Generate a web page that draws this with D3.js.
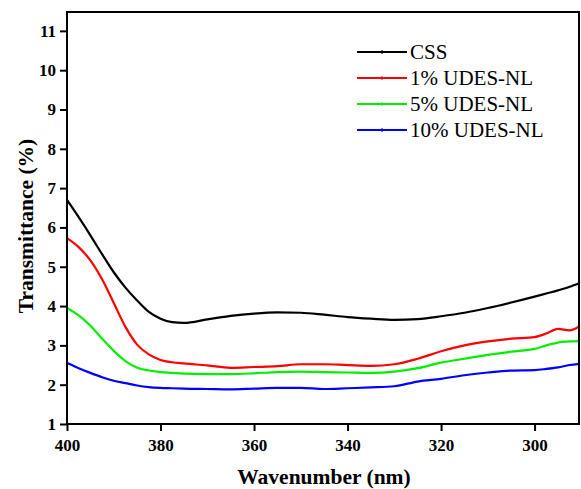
<!DOCTYPE html>
<html>
<head>
<meta charset="utf-8">
<script src="https://cdn.jsdelivr.net/npm/d3@7"></script>
<style>
  body { margin: 0; background: #fff; }
  svg text { font-family: "Liberation Serif", "Times New Roman", serif; }
</style>
</head>
<body>
<svg id="chart" width="581" height="489"></svg>
<script>
// wavelength samples (nm)
var wavenumber = [400, 397.5, 395, 392.5, 390, 387.5, 385, 382.5, 380, 377.5, 375, 370, 365, 360, 355, 350,
  345, 340, 335, 330, 325, 320, 315, 310, 305, 300, 297.5, 295, 292.5, 290.5];

var css = [6.70, 6.26, 5.80, 5.32, 4.86, 4.47, 4.14, 3.85, 3.68, 3.59, 3.57, 3.66, 3.75, 3.81, 3.84, 3.83,
  3.78, 3.72, 3.68, 3.65, 3.67, 3.74, 3.83, 3.95, 4.09, 4.24, 4.32, 4.40, 4.49, 4.58];
var udes1 = [5.73, 5.50, 5.16, 4.68, 4.08, 3.47, 3.02, 2.77, 2.63, 2.57, 2.54, 2.49, 2.43, 2.45, 2.47, 2.52,
  2.52, 2.50, 2.48, 2.52, 2.66, 2.85, 3.00, 3.10, 3.17, 3.21, 3.30, 3.42, 3.38, 3.48];
var udes5 = [3.95, 3.76, 3.50, 3.17, 2.86, 2.60, 2.43, 2.36, 2.32, 2.30, 2.28, 2.27, 2.27, 2.29, 2.32, 2.33,
  2.32, 2.31, 2.30, 2.33, 2.42, 2.56, 2.66, 2.76, 2.84, 2.91, 3.00, 3.07, 3.10, 3.11];
var udes10 = [2.55, 2.42, 2.30, 2.19, 2.10, 2.04, 1.98, 1.94, 1.92, 1.91, 1.90, 1.89, 1.88, 1.90, 1.92, 1.92,
  1.89, 1.91, 1.93, 1.96, 2.08, 2.15, 2.24, 2.31, 2.36, 2.37, 2.40, 2.44, 2.50, 2.53];

var seriesNames = ["CSS", "1% UDES-NL", "5% UDES-NL", "10% UDES-NL"];
var seriesColors = ["#000000", "#ff0000", "#00ee00", "#0000ff"];
var seriesValues = [css, udes1, udes5, udes10];

var xTicks = [400, 380, 360, 340, 320, 300];
var yTicks = [1, 2, 3, 4, 5, 6, 7, 8, 9, 10, 11];

var svg = d3.select("#chart"),
    margin = {top: 12, right: 2, bottom: 65, left: 67},
    width = +svg.attr("width") - margin.left - margin.right,
    height = +svg.attr("height") - margin.top - margin.bottom;

var g = svg.append("g").attr("transform", "translate(" + margin.left + "," + margin.top + ")");

var x = d3.scaleLinear().domain([400, 290.5]).range([0, width]);
var y = d3.scaleLinear().domain([1, 11.48]).range([height, 0]);

var line = d3.line()
  .x(function(d) { return x(d.w); })
  .y(function(d) { return y(d.v); })
  .curve(d3.curveMonotoneX);

seriesValues.forEach(function(vals, i){
  var pts = wavenumber.map(function(w, j){ return {w: w, v: vals[j]}; });
  g.append("path")
    .datum(pts)
    .attr("fill", "none")
    .attr("stroke", seriesColors[i])
    .attr("stroke-width", 2.2)
    .attr("d", line);
});

//axes
var xAxis = g.append("g")
  .attr("transform", "translate(0," + height + ")")
  .call(d3.axisBottom(x).tickValues(xTicks).tickSize(7).tickPadding(4).tickFormat(d3.format("d")));
var yAxis = g.append("g")
  .call(d3.axisLeft(y).tickValues(yTicks).tickSize(7).tickPadding(4).tickFormat(d3.format("d")));

[xAxis, yAxis].forEach(function(a){
  a.select(".domain").remove();
  a.selectAll("line").attr("stroke", "#000").attr("stroke-width", 2);
  a.selectAll("text")
    .attr("fill", "#000")
    .style("font-size", "17px")
    .style("font-weight", "bold")
    .style("font-family", "'Liberation Serif', serif");
});
xAxis.selectAll("text").attr("dy", "0.95em");

// frame
g.append("rect")
  .attr("x", 0).attr("y", 0)
  .attr("width", width).attr("height", height)
  .attr("fill", "none")
  .attr("stroke", "#000")
  .attr("stroke-width", 2);

// axis titles
svg.append("text")
  .attr("x", 324)
  .attr("y", 484)
  .attr("text-anchor", "middle")
  .style("font-size", "21.5px")
  .style("font-weight", "bold")
  .text("Wavenumber (nm)");

svg.append("text")
  .attr("transform", "translate(33,226) rotate(-90)")
  .attr("text-anchor", "middle")
  .style("font-size", "21.5px")
  .style("font-weight", "bold")
  .text("Transmittance (%)");

// legend
var legend = g.append("g").attr("transform", "translate(290,40)");
seriesNames.forEach(function(name, i){
  var row = legend.append("g").attr("transform", "translate(0," + (i * 26) + ")");
  row.append("line")
    .attr("x1", 0).attr("x2", 50)
    .attr("stroke", seriesColors[i])
    .attr("stroke-width", 2.2);
  row.append("line")
    .attr("x1", 25).attr("x2", 25).attr("y1", -2).attr("y2", 2)
    .attr("stroke", seriesColors[i]).attr("stroke-width", 1);
  row.append("text")
    .attr("x", 53).attr("y", 7)
    .style("font-size", "21px")
    .text(name);
});
</script>
</body>
</html>
